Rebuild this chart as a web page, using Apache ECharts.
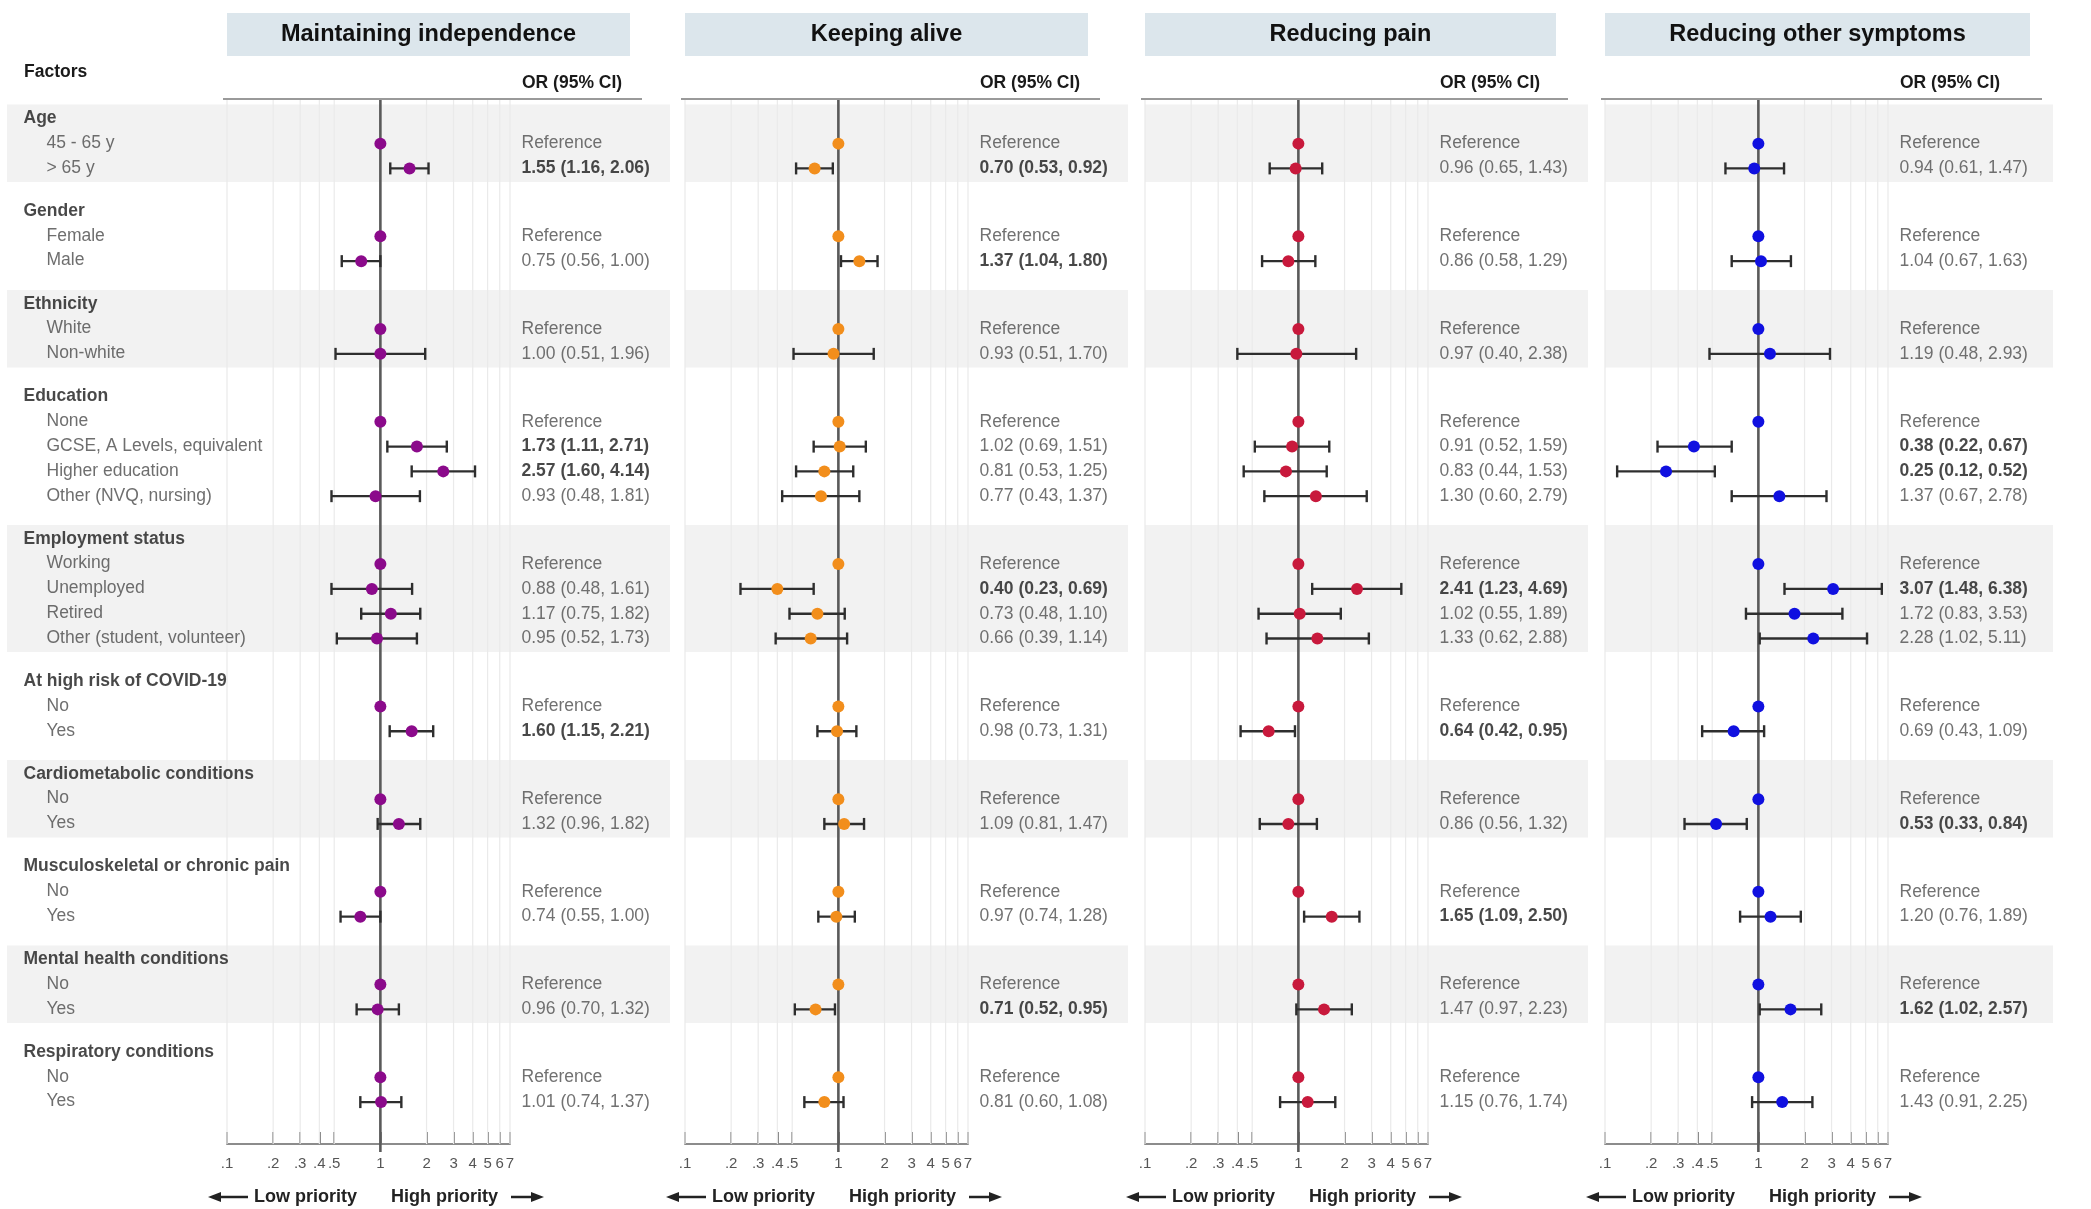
<!DOCTYPE html>
<html><head><meta charset="utf-8">
<script src="https://cdn.jsdelivr.net/npm/echarts@6/dist/echarts.min.js"></script>
<style>html,body{margin:0;padding:0;background:#fff}#c{width:2091px;height:1209px}</style>
</head><body><div id="c"></div>
<script>
// ---------------- DATA ----------------
const groups = ['Age','Gender','Ethnicity','Education','Employment status','At high risk of COVID-19',
  'Cardiometabolic conditions','Musculoskeletal or chronic pain','Mental health conditions','Respiratory conditions'];
const levels = [
  ['45 - 65 y','> 65 y'],
  ['Female','Male'],
  ['White','Non-white'],
  ['None','GCSE, A Levels, equivalent','Higher education','Other (NVQ, nursing)'],
  ['Working','Unemployed','Retired','Other (student, volunteer)'],
  ['No','Yes'],['No','Yes'],['No','Yes'],['No','Yes'],['No','Yes']
];
const panelTitles = ['Maintaining independence','Keeping alive','Reducing pain','Reducing other symptoms'];
const tickValues = [0.1,0.2,0.3,0.4,0.5,1,2,3,4,5,6,7];

// non-reference rows, in order
const indepOR  = [1.55,0.75,1.00,1.73,2.57,0.93,0.88,1.17,0.95,1.60,1.32,0.74,0.96,1.01];
const indepLo  = [1.16,0.56,0.51,1.11,1.60,0.48,0.48,0.75,0.52,1.15,0.96,0.55,0.70,0.74];
const indepHi  = [2.06,1.00,1.96,2.71,4.14,1.81,1.61,1.82,1.73,2.21,1.82,1.00,1.32,1.37];
const indepSig = [1,0,0,1,1,0,0,0,0,1,0,0,0,0];

const aliveOR  = [0.70,1.37,0.93,1.02,0.81,0.77,0.40,0.73,0.66,0.98,1.09,0.97,0.71,0.81];
const aliveLo  = [0.53,1.04,0.51,0.69,0.53,0.43,0.23,0.48,0.39,0.73,0.81,0.74,0.52,0.60];
const aliveHi  = [0.92,1.80,1.70,1.51,1.25,1.37,0.69,1.10,1.14,1.31,1.47,1.28,0.95,1.08];
const aliveSig = [1,1,0,0,0,0,1,0,0,0,0,0,1,0];

const painOR  = [0.96,0.86,0.97,0.91,0.83,1.30,2.41,1.02,1.33,0.64,0.86,1.65,1.47,1.15];
const painLo  = [0.65,0.58,0.40,0.52,0.44,0.60,1.23,0.55,0.62,0.42,0.56,1.09,0.97,0.76];
const painHi  = [1.43,1.29,2.38,1.59,1.53,2.79,4.69,1.89,2.88,0.95,1.32,2.50,2.23,1.74];
const painSig = [0,0,0,0,0,0,1,0,0,1,0,1,0,0];

const sympOR  = [0.94,1.04,1.19,0.38,0.25,1.37,3.07,1.72,2.28,0.69,0.53,1.20,1.62,1.43];
const sympLo  = [0.61,0.67,0.48,0.22,0.12,0.67,1.48,0.83,1.02,0.43,0.33,0.76,1.02,0.91];
const sympHi  = [1.47,1.63,2.93,0.67,0.52,2.78,6.38,3.53,5.11,1.09,0.84,1.89,2.57,2.25];
const sympSig = [0,0,0,1,1,0,1,0,0,0,1,0,1,0];

const panels = [
  {or: indepOR, lo: indepLo, hi: indepHi, sig: indepSig},
  {or: aliveOR, lo: aliveLo, hi: aliveHi, sig: aliveSig},
  {or: painOR,  lo: painLo,  hi: painHi,  sig: painSig},
  {or: sympOR,  lo: sympLo,  hi: sympHi,  sig: sympSig}
];

// ---------------- LAYOUT / STYLE ----------------
const FF = "'Liberation Sans', Arial, Helvetica, sans-serif";
const colors = ['#8B0A8B','#F28E1C','#C8193C','#1010E0'];
const L = [227,685,1145,1605];
const PW = 283, TOP = 99, GH = 1045;
const headerW = [403,403,411,425];
const bandW = [443,443,443,448];
const YMIN = -0.8, YMAX = 41.35, GAP = 1.74;
const FS = 17.5;

// rows
const rows = [];
const bandsData = [];
let s = 0, k = 0;
groups.forEach((g, gi) => {
  if (gi > 0) s += GAP;
  const t = s;
  rows.push({s, kind:'title', text:g});
  levels[gi].forEach((lv, li) => {
    s += 1;
    rows.push({s, kind: li === 0 ? 'ref' : 'item', text: lv, k: li === 0 ? -1 : k++});
  });
  if (gi % 2 === 0) bandsData.push([1, t - 0.58, s + 0.55]);
});

const fmt = (P, i) => P.or[i].toFixed(2) + ' (' + P.lo[i].toFixed(2) + ', ' + P.hi[i].toFixed(2) + ')';
const tickFmt = v => v < 1 ? '.' + Math.round(v * 10) : String(Math.round(v));

const chart = echarts.init(document.getElementById('c'), null, {renderer:'canvas'});

const grid = L.map(l => ({left: l, top: TOP, width: PW, height: GH, containLabel: false}));
const xAxis = L.map((l, i) => ({
  type: 'log', gridIndex: i, logBase: 10, min: 0.1, max: 7,
  axisLine: {show: true, onZero: false, lineStyle: {color: '#8c8c8c', width: 2}},
  axisTick: {show: true, inside: true, length: 12, customValues: tickValues, lineStyle: {color: '#8c8c8c', width: 2}},
  axisLabel: {show: true, customValues: tickValues, formatter: tickFmt, fontSize: 15, color: '#555', margin: 12, fontFamily: FF},
  splitLine: {show: false}, minorTick: {show: false}, minorSplitLine: {show: false}
}));
const yAxis = L.map((l, i) => ({type: 'value', gridIndex: i, inverse: true, min: YMIN, max: YMAX, show: false}));

const series = [];
panels.forEach((P, p) => {
  // bands
  series.push({
    type: 'custom', xAxisIndex: p, yAxisIndex: p, z: 0, silent: true,
    encode: {x: 0, y: [1, 2]},
    data: bandsData,
    renderItem: (params, api) => {
      const cs = params.coordSys;
      const y0 = api.coord([1, api.value(1)])[1];
      const y1 = api.coord([1, api.value(2)])[1];
      const x0 = p === 0 ? 7 : cs.x;
      const x1 = cs.x + bandW[p];
      return {type: 'rect', shape: {x: x0, y: y0, width: x1 - x0, height: y1 - y0}, style: {fill: '#F2F2F2'}};
    }
  });
  // grid lines
  series.push({
    type: 'custom', xAxisIndex: p, yAxisIndex: p, z: 1, silent: true,
    encode: {x: 0, y: [1, 2]},
    data: tickValues.filter(v => v !== 1).map(v => [v, YMIN, YMAX]),
    renderItem: (params, api) => {
      const a = api.coord([api.value(0), api.value(1)]);
      const b = api.coord([api.value(0), api.value(2)]);
      return {type: 'line', shape: {x1: a[0], y1: a[1], x2: b[0], y2: b[1]}, style: {stroke: '#EAEAEA', lineWidth: 1.2}};
    }
  });
  // reference line at 1
  series.push({
    type: 'custom', xAxisIndex: p, yAxisIndex: p, z: 2, silent: true,
    encode: {x: 0, y: [1, 2]},
    data: [[1, YMIN, YMAX]],
    renderItem: (params, api) => {
      const a = api.coord([api.value(0), api.value(1)]);
      const b = api.coord([api.value(0), api.value(2)]);
      return {type: 'line', shape: {x1: a[0], y1: a[1], x2: b[0], y2: b[1] + 8}, style: {stroke: '#5a5a5a', lineWidth: 2.6}};
    }
  });
  // error bars
  series.push({
    type: 'custom', xAxisIndex: p, yAxisIndex: p, z: 3, silent: true,
    encode: {x: [0, 1], y: 2},
    data: rows.filter(r => r.kind === 'item').map(r => [P.lo[r.k], P.hi[r.k], r.s]),
    renderItem: (params, api) => {
      const a = api.coord([api.value(0), api.value(2)]);
      const b = api.coord([api.value(1), api.value(2)]);
      const h = 6;
      const st = {stroke: '#2e2e2e', lineWidth: 2.4};
      return {type: 'group', children: [
        {type: 'line', shape: {x1: a[0], y1: a[1], x2: b[0], y2: b[1]}, style: st},
        {type: 'line', shape: {x1: a[0], y1: a[1] - h, x2: a[0], y2: a[1] + h}, style: st},
        {type: 'line', shape: {x1: b[0], y1: b[1] - h, x2: b[0], y2: b[1] + h}, style: st}
      ]};
    }
  });
  // points
  series.push({
    type: 'scatter', xAxisIndex: p, yAxisIndex: p, z: 4, silent: true,
    symbol: 'circle', symbolSize: 12, itemStyle: {color: colors[p], opacity: 1},
    data: rows.filter(r => r.kind !== 'title').map(r => [r.kind === 'ref' ? 1 : P.or[r.k], r.s])
  });
  // OR text column
  series.push({
    type: 'scatter', xAxisIndex: p, yAxisIndex: p, z: 5, silent: true,
    symbol: 'circle', symbolSize: 1, itemStyle: {color: 'rgba(0,0,0,0)'},
    label: {show: true, position: 'right', distance: 11, formatter: q => q.name,
            fontSize: FS, fontFamily: FF, color: '#4d4d4d'},
    data: rows.filter(r => r.kind !== 'title').map(r => r.kind === 'ref'
      ? {value: [7, r.s], name: 'Reference'}
      : {value: [7, r.s], name: fmt(P, r.k),
         label: {fontWeight: P.sig[r.k] ? 'bold' : 'normal', color: P.sig[r.k] ? '#1a1a1a' : '#4d4d4d'}})
  });
});
// left factor labels
series.push({
  type: 'scatter', xAxisIndex: 0, yAxisIndex: 0, z: 5, silent: true,
  symbol: 'circle', symbolSize: 1, itemStyle: {color: 'rgba(0,0,0,0)'},
  label: {show: true, formatter: q => q.name, align: 'left', verticalAlign: 'middle',
          fontSize: FS, fontFamily: FF},
  data: rows.map(r => r.kind === 'title'
    ? {value: [0.1, r.s], name: r.text, label: {position: [-203, 0], fontWeight: 'bold', color: '#1a1a1a'}}
    : {value: [0.1, r.s], name: r.text, label: {position: [-180, 0], fontWeight: 'normal', color: '#4a4a4a'}})
});

const graphic = [];
L.forEach((l, i) => {
  graphic.push({type: 'rect', shape: {x: l, y: 13, width: headerW[i], height: 43}, style: {fill: '#DCE6EC'}, z: 0});
  graphic.push({type: 'text', x: l + headerW[i] / 2, y: 35, z: 1,
    style: {text: panelTitles[i], fontSize: 23.5, fontWeight: 'bold', fontFamily: FF, fill: '#111', align: 'center', verticalAlign: 'middle'}});
  graphic.push({type: 'text', x: l + PW + 12, y: 83, z: 1,
    style: {text: 'OR (95% CI)', fontSize: FS, fontWeight: 'bold', fontFamily: FF, fill: '#1a1a1a', align: 'left', verticalAlign: 'middle'}});
  graphic.push({type: 'line', shape: {x1: l - 4, y1: TOP, x2: l + headerW[i] + 12, y2: TOP}, z: 10,
    style: {stroke: '#9a9a9a', lineWidth: 2}});
  // priority labels
  const yP = 1197;
  graphic.push({type: 'text', x: l + 130, y: yP, z: 1,
    style: {text: 'Low priority', fontSize: 18, fontWeight: 'bold', fontFamily: FF, fill: '#222', align: 'right', verticalAlign: 'middle'}});
  graphic.push({type: 'text', x: l + 164, y: yP, z: 1,
    style: {text: 'High priority', fontSize: 18, fontWeight: 'bold', fontFamily: FF, fill: '#222', align: 'left', verticalAlign: 'middle'}});
  graphic.push({type: 'line', shape: {x1: l - 8, y1: yP, x2: l + 21, y2: yP}, style: {stroke: '#222', lineWidth: 2.5}});
  graphic.push({type: 'polygon', shape: {points: [[l - 19, yP], [l - 6, yP - 5], [l - 6, yP + 5]]}, style: {fill: '#222'}});
  graphic.push({type: 'line', shape: {x1: l + 284, y1: yP, x2: l + 306, y2: yP}, style: {stroke: '#222', lineWidth: 2.5}});
  graphic.push({type: 'polygon', shape: {points: [[l + 317, yP], [l + 304, yP - 5], [l + 304, yP + 5]]}, style: {fill: '#222'}});
});
graphic.push({type: 'text', x: 24, y: 72, z: 1,
  style: {text: 'Factors', fontSize: FS, fontWeight: 'bold', fontFamily: FF, fill: '#1a1a1a', align: 'left', verticalAlign: 'middle'}});

chart.setOption({
  backgroundColor: '#ffffff',
  animation: false,
  grid, xAxis, yAxis, series, graphic
});
</script></body></html>
